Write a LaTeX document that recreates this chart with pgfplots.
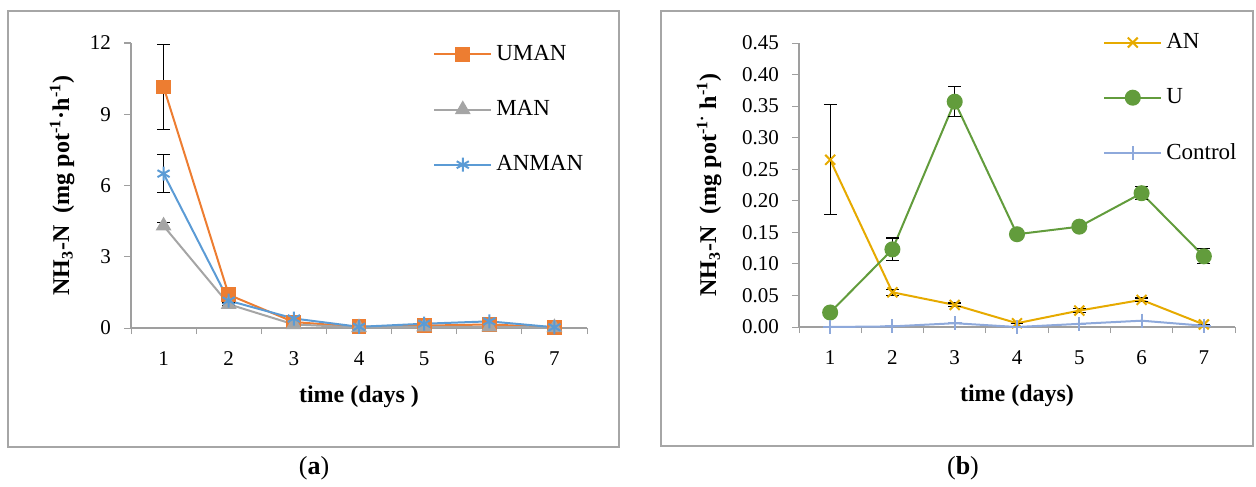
\documentclass[border=0pt]{standalone}
\usepackage{fontspec}
\setmainfont{Liberation Serif}
\usepackage{pgfplots}
\pgfplotsset{compat=1.18}

\definecolor{cuman}{HTML}{ED7D31}
\definecolor{cman}{HTML}{A5A5A5}
\definecolor{canman}{HTML}{5B9BD5}
\definecolor{can}{HTML}{E6AA00}
\definecolor{cu}{HTML}{629C3C}
\definecolor{cctl}{HTML}{8EA9DB}
\definecolor{framegray}{HTML}{A6A6A6}

\pgfplotsset{
  panel/.style={
    scale only axis,
    axis lines*=left,
    axis line style={gray!75, line width=0.6pt},
    tick align=outside,
    tick style={gray!75, line width=0.5pt},
    major tick length=3.5pt,
    minor tick length=3pt,
    xmin=0.5, xmax=7.5,
    xtick={1,...,7},
    minor xtick={0.5,1.5,...,7.5},
    major x tick style={draw=none},
    tick label style={font=\fontsize{10.5}{12}\selectfont},
    xticklabel style={yshift=-5pt},
    yticklabel style={xshift=-3pt},
    /pgf/number format/assume math mode=true,
    label style={font=\bfseries\fontsize{12}{14}\selectfont},
    xlabel style={at={(axis description cs:0.5,0)}, anchor=center, yshift=-34.5pt},
    legend style={draw=none, fill=none, inner sep=0pt,
      font=\fontsize{11.5}{13}\selectfont, row sep=14.5pt, anchor=north west},
    legend cell align=left,
    legend image code/.code={%
      \draw[mark repeat=2, mark phase=2] plot coordinates {(0pt,0pt) (14.25pt,0pt) (28.5pt,0pt)};},
    every axis plot/.append style={line width=1pt, mark options={solid}},
    error bars/error bar style={black, line width=0.6pt},
    error bars/error mark options={black, rotate=90, mark size=3.2pt, line width=0.6pt},
    clip=false,
  }
}

\begin{document}
\begin{tikzpicture}
\path (0,0) rectangle (628pt,242.5pt);

% panel (a)
\begin{axis}[
  panel,
  at={(65.5pt,78.5pt)}, anchor=south west,
  width=228pt, height=142.5pt,
  ymin=0, ymax=12,
  ytick={0,3,6,9,12},
  xlabel={time (days )},
  ylabel={NH\textsubscript{3}-N\ \ (mg pot\textsuperscript{-1}·h\textsuperscript{-1})},
  ylabel style={at={(axis description cs:-0.151,0.5)}, anchor=center},
  legend style={at={(0.662,1.0075)}},
]
\addplot[color=cuman, mark=square*, mark size=3.2pt,
  error bars/.cd, y dir=both, y explicit]
  coordinates {(1,10.15) +- (0,1.8) (2,1.40) +- (0,0.05) (3,0.25) +- (0,0.02)
               (4,0.05) +- (0,0) (5,0.10) +- (0,0) (6,0.15) +- (0,0) (7,0.03) +- (0,0)};
\addlegendentry{UMAN}
\addplot[color=cman, mark=triangle*, mark size=3.6pt,
  error bars/.cd, y dir=both, y explicit]
  coordinates {(1,4.30) +- (0,0.15) (2,1.00) +- (0,0.05) (3,0.15) +- (0,0)
               (4,0.02) +- (0,0) (5,0.05) +- (0,0) (6,0.05) +- (0,0) (7,0.02) +- (0,0)};
\addlegendentry{MAN}
\addplot[color=canman, mark=asterisk, mark size=3.5pt,
  error bars/.cd, y dir=both, y explicit]
  coordinates {(1,6.50) +- (0,0.8) (2,1.15) +- (0,0.1) (3,0.40) +- (0,0)
               (4,0.05) +- (0,0) (5,0.18) +- (0,0) (6,0.28) +- (0,0) (7,0.03) +- (0,0)};
\addlegendentry{ANMAN}
\end{axis}

% panel (b)
\begin{axis}[
  panel,
  at={(399.5pt,79pt)}, anchor=south west,
  width=218pt, height=142pt,
  ymin=0, ymax=0.45,
  ytick={0,0.05,0.10,0.15,0.20,0.25,0.30,0.35,0.40,0.45},
  yticklabel style={/pgf/number format/.cd, fixed, fixed zerofill, precision=2},
  xlabel={time (days)},
  ylabel={NH\textsubscript{3}-N\ \ (mg pot\textsuperscript{-1·} h\textsuperscript{-1})},
  ylabel style={at={(axis description cs:-0.206,0.5)}, anchor=center},
  legend style={at={(0.697,1.049)}},
]
\addplot[color=can, mark=x, mark size=3.5pt,
  error bars/.cd, y dir=both, y explicit]
  coordinates {(1,0.265) +- (0,0.087) (2,0.055) +- (0,0.005) (3,0.035) +- (0,0.003)
               (4,0.006) +- (0,0) (5,0.026) +- (0,0.003) (6,0.043) +- (0,0.003) (7,0.004) +- (0,0)};
\addlegendentry{AN}
\addplot[color=cu, mark=*, mark size=3.5pt,
  error bars/.cd, y dir=both, y explicit]
  coordinates {(1,0.023) +- (0,0.002) (2,0.123) +- (0,0.018) (3,0.357) +- (0,0.024)
               (4,0.147) +- (0,0.004) (5,0.159) +- (0,0.004) (6,0.212) +- (0,0.010) (7,0.112) +- (0,0.012)};
\addlegendentry{U}
\addplot[color=cctl, mark=+, mark size=3.5pt]
  coordinates {(1,0.000) (2,0.001) (3,0.006) (4,0.000) (5,0.005) (6,0.010) (7,0.002)};
\addlegendentry{Control}
\end{axis}

\draw[framegray, line width=0.6pt] (4pt,19pt) rectangle (309.5pt,237pt);
\draw[framegray, line width=0.6pt] (330.5pt,19.5pt) rectangle (626.5pt,237pt);
\node[font=\fontsize{13}{15}\selectfont] at (157pt,8.5pt) {(\textbf{a})};
\node[font=\fontsize{13}{15}\selectfont] at (481.5pt,8.5pt) {(\textbf{b})};
\end{tikzpicture}
\end{document}
